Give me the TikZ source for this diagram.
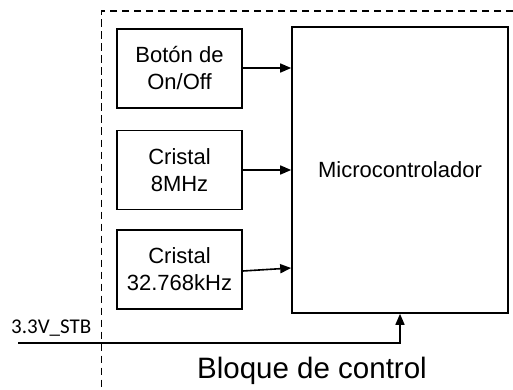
\documentclass[tikz,border=0pt]{standalone}
\usepackage{fontspec}
\setmainfont{Liberation Sans}
\newfontfamily\labelfont{Carlito}
\usetikzlibrary{arrows.meta}
\begin{document}
\begin{tikzpicture}[x=1pt,y=-1pt,
  blk/.style={draw,line width=1.6pt,rectangle,minimum width=125pt,minimum height=79pt,
    align=center,inner sep=0pt,font=\fontsize{22}{27}\selectfont},
  conn/.style={line width=1.6pt,-{Triangle[length=11pt,width=9pt]}}]
\useasboundingbox (0,0) rectangle (513,390);
\draw[line width=1.4pt,dash pattern=on 7.5pt off 4.5pt] (513,11) -| (101.5,390);
\node[blk] (btn) at (179.5,68.5) {Botón de\\On/Off};
\node[blk] (x8) at (179.5,170) {Cristal\\8MHz};
\node[blk] (x32) at (179.5,269.5) {Cristal\\32.768kHz};
\node[blk,minimum width=216pt,minimum height=286pt] (mcu) at (400,170) {Microcontrolador};
\draw[conn] ([yshift=0.5pt]btn.east) -- ([yshift=0.5pt]btn.east -| mcu.west);
\draw[conn] (x8.east) -- (x8.east -| mcu.west);
\draw[conn] ([yshift=-1.5pt]x32.east) -- ([yshift=1.5pt]x32.east -| mcu.west);
\coordinate (vin) at (18,343);
\node[anchor=base west,inner sep=0pt,font=\labelfont\fontsize{21}{25}\selectfont] (lbl) at (11,333) {3.3V\_STB};
\draw[conn] (vin) -| (mcu.south);
\node[anchor=base,inner sep=0pt,font=\fontsize{29.5}{34}\selectfont] (title) at (312,378) {Bloque de control};
\end{tikzpicture}
\end{document}
